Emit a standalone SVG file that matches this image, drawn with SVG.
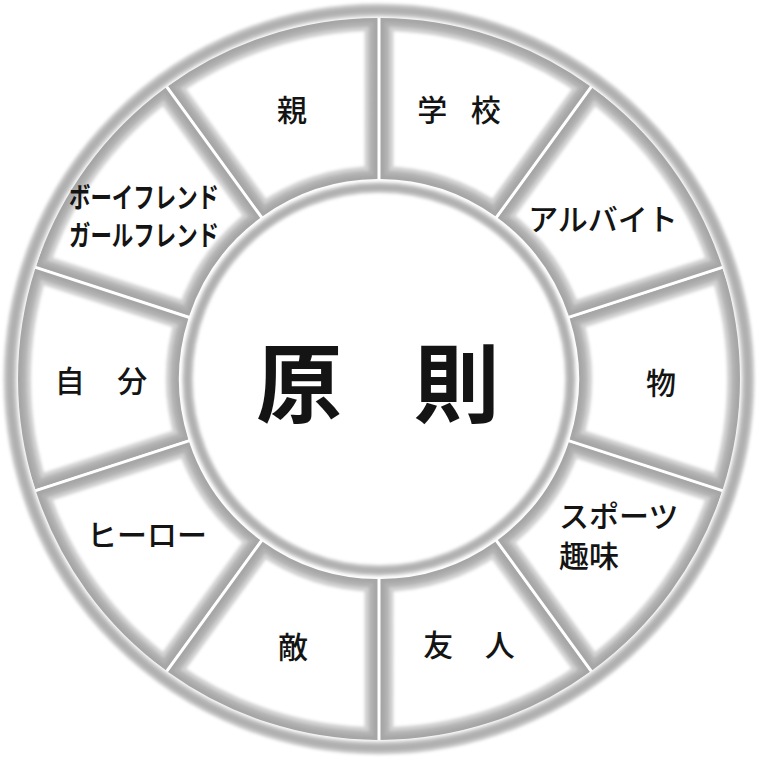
<svg xmlns="http://www.w3.org/2000/svg" xmlns:xlink="http://www.w3.org/1999/xlink" width="760" height="760" viewBox="0 0 760 760">
  <style>
    .lbl { font-family: "Noto Sans CJK JP", "Noto Sans CJK SC", sans-serif; font-size: 30px; font-weight: 500; fill: #141414; }
    .mid { text-anchor: middle; }
    .big { font-size: 86px; font-weight: 700; }
    .cond { font-size: 28px; font-weight: 700; }
    .b1 { fill: #ffffff; stroke: #d0d0d0; stroke-width: 26; }
    .b2 { fill: none; stroke: #b2b2b2; stroke-width: 17; }
    .b3 { fill: none; stroke: #a6a6a6; stroke-width: 8; }
    .r1 { fill: none; stroke: #cbcbcb; }
    .r2 { fill: none; stroke: #b0b0b0; }
  </style>
  <defs>
    <path id="tileShape" d="M380.5,18 A361,361 0 0 1 589.98,86.07 L495.34,216.32 A200,200 0 0 0 380.5,179 Z"/>
    <clipPath id="tc" clipPathUnits="userSpaceOnUse">
      <use href="#tileShape"/>
    </clipPath>
    <filter id="soft" x="-10%" y="-10%" width="120%" height="120%">
      <feGaussianBlur stdDeviation="1.6"/>
    </filter>
  </defs>

  <rect x="0" y="0" width="760" height="760" fill="#ffffff"/>

  <g id="rings" filter="url(#soft)">
    <circle class="r1" cx="379" cy="379" r="369" stroke-width="13"/>
    <circle class="r2" cx="379" cy="379" r="369" stroke-width="7"/>
    <circle class="r1" cx="379" cy="379" r="191.5" stroke-width="11"/>
    <circle class="r2" cx="379" cy="379" r="191.5" stroke-width="6"/>
  </g>

  <g id="n-gakko">
    <g transform="rotate(0 379 379)" clip-path="url(#tc)" filter="url(#soft)">
      <use href="#tileShape" class="b1"/><use href="#tileShape" class="b2"/><use href="#tileShape" class="b3"/>
    </g>
    <text class="lbl mid" x="459" y="121" style="word-spacing:17px">学 校</text>
  </g>

  <g id="n-arubaito">
    <g transform="rotate(36 379 379)" clip-path="url(#tc)" filter="url(#soft)">
      <use href="#tileShape" class="b1"/><use href="#tileShape" class="b2"/><use href="#tileShape" class="b3"/>
    </g>
    <text class="lbl mid" x="603" y="230">アルバイト</text>
  </g>

  <g id="n-mono">
    <g transform="rotate(72 379 379)" clip-path="url(#tc)" filter="url(#soft)">
      <use href="#tileShape" class="b1"/><use href="#tileShape" class="b2"/><use href="#tileShape" class="b3"/>
    </g>
    <text class="lbl mid" x="661" y="394">物</text>
  </g>

  <g id="n-sports">
    <g transform="rotate(108 379 379)" clip-path="url(#tc)" filter="url(#soft)">
      <use href="#tileShape" class="b1"/><use href="#tileShape" class="b2"/><use href="#tileShape" class="b3"/>
    </g>
    <text class="lbl" x="559" y="527">スポーツ</text>
    <text class="lbl" x="559" y="567">趣味</text>
  </g>

  <g id="n-yujin">
    <g transform="rotate(144 379 379)" clip-path="url(#tc)" filter="url(#soft)">
      <use href="#tileShape" class="b1"/><use href="#tileShape" class="b2"/><use href="#tileShape" class="b3"/>
    </g>
    <text class="lbl mid" x="469" y="656" style="word-spacing:25px">友 人</text>
  </g>

  <g id="n-teki">
    <g transform="rotate(180 379 379)" clip-path="url(#tc)" filter="url(#soft)">
      <use href="#tileShape" class="b1"/><use href="#tileShape" class="b2"/><use href="#tileShape" class="b3"/>
    </g>
    <text class="lbl mid" x="293" y="658">敵</text>
  </g>

  <g id="n-hero">
    <g transform="rotate(216 379 379)" clip-path="url(#tc)" filter="url(#soft)">
      <use href="#tileShape" class="b1"/><use href="#tileShape" class="b2"/><use href="#tileShape" class="b3"/>
    </g>
    <text class="lbl mid" x="147" y="546">ヒーロー</text>
  </g>

  <g id="n-jibun">
    <g transform="rotate(252 379 379)" clip-path="url(#tc)" filter="url(#soft)">
      <use href="#tileShape" class="b1"/><use href="#tileShape" class="b2"/><use href="#tileShape" class="b3"/>
    </g>
    <text class="lbl mid" x="101" y="392" style="word-spacing:26px">自 分</text>
  </g>

  <g id="n-friend">
    <g transform="rotate(288 379 379)" clip-path="url(#tc)" filter="url(#soft)">
      <use href="#tileShape" class="b1"/><use href="#tileShape" class="b2"/><use href="#tileShape" class="b3"/>
    </g>
    <text class="lbl cond" x="69" y="208" textLength="150" lengthAdjust="spacingAndGlyphs">ボーイフレンド</text>
    <text class="lbl cond" x="69" y="246" textLength="150" lengthAdjust="spacingAndGlyphs">ガールフレンド</text>
  </g>

  <g id="n-oya">
    <g transform="rotate(324 379 379)" clip-path="url(#tc)" filter="url(#soft)">
      <use href="#tileShape" class="b1"/><use href="#tileShape" class="b2"/><use href="#tileShape" class="b3"/>
    </g>
    <text class="lbl mid" x="292" y="121">親</text>
  </g>

  <g id="n-gensoku">
    <text class="lbl big mid" x="378" y="416" style="word-spacing:52px">原 則</text>
  </g>
</svg>
